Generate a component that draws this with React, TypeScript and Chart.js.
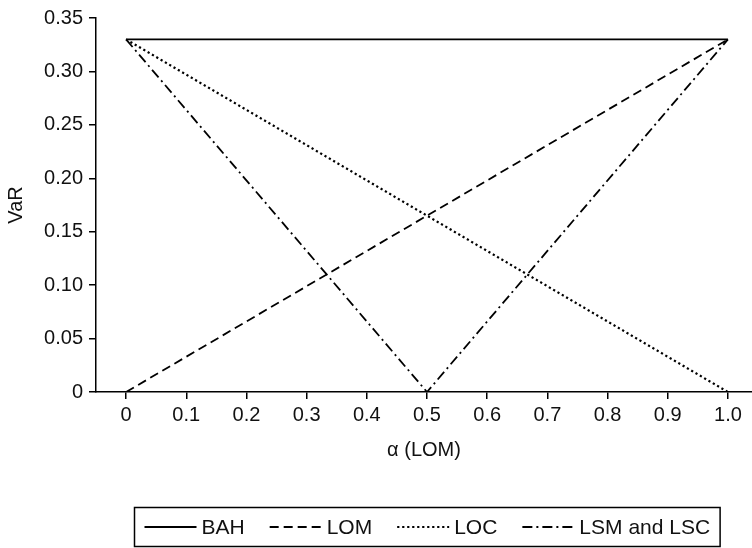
import React, { useEffect, useRef } from 'react';
import { Chart, registerables } from 'chart.js';

Chart.register(...registerables);

const FONT = '"Liberation Sans", Arial, Helvetica, sans-serif';

const alpha = [0, 0.5, 1.0];
const bahValues = [0.33, 0.33, 0.33];
const lomValues = [0, 0.165, 0.33];
const locValues = [0.33, 0.165, 0];
const lsmValues = [0.33, 0, 0.33];
const seriesNames = ['BAH', 'LOM', 'LOC', 'LSM and LSC'];

const xTicks = [0, 0.1, 0.2, 0.3, 0.4, 0.5, 0.6, 0.7, 0.8, 0.9, 1.0];
const xTickLabels = ['0', '0.1', '0.2', '0.3', '0.4', '0.5', '0.6', '0.7', '0.8', '0.9', '1.0'];
const yTicks = [0, 0.05, 0.1, 0.15, 0.2, 0.25, 0.3, 0.35];
const yTickLabels = ['0', '0.05', '0.10', '0.15', '0.20', '0.25', '0.30', '0.35'];

const xTitle = 'α (LOM)';
const yTitle = 'VaR';

const toPoints = (vals: number[]) => vals.map((v, i) => ({ x: alpha[i], y: v }));

const boxLegend = {
  id: 'boxLegend',
  afterDraw(chart: any) {
    const ctx = chart.ctx as CanvasRenderingContext2D;
    ctx.save();
    ctx.font = `21px ${FONT}`;
    const sample = 52, gapText = 5, gapItem = 25, pad = 10;
    const items = chart.data.datasets.map((ds: any) => ({
      label: ds.label as string,
      dash: (ds.borderDash || []) as number[],
      w: ctx.measureText(ds.label).width,
    }));
    const total =
      pad * 2 +
      items.reduce((s: number, it: any) => s + sample + gapText + it.w, 0) +
      gapItem * (items.length - 1);
    const cx = (chart.chartArea.left + chart.chartArea.right) / 2 + 3;
    const left = Math.round(cx - total / 2) + 0.5;
    const h = 39;
    const top = chart.height - 41 + 0.5;
    ctx.strokeStyle = '#000';
    ctx.lineWidth = 1.5;
    ctx.setLineDash([]);
    ctx.strokeRect(left, top, total, h);
    let x = left + pad;
    const y = top + h / 2;
    items.forEach((it: any) => {
      ctx.setLineDash(it.dash);
      ctx.lineWidth = 2;
      ctx.beginPath();
      ctx.moveTo(x, y);
      ctx.lineTo(x + sample, y);
      ctx.stroke();
      x += sample + gapText;
      ctx.setLineDash([]);
      ctx.fillStyle = '#111';
      ctx.textBaseline = 'middle';
      ctx.textAlign = 'left';
      ctx.fillText(it.label, x, y + 1);
      x += it.w + gapItem;
    });
    ctx.restore();
  },
};

export default function App() {
  const ref = useRef<HTMLCanvasElement | null>(null);

  useEffect(() => {
    document.body.style.margin = '0';
    if (!ref.current) return;
    const common = { borderColor: '#000', borderWidth: 1.8, pointRadius: 0, fill: false, tension: 0 };
    const chart = new Chart(ref.current, {
      type: 'line',
      data: {
        datasets: [
          { label: seriesNames[0], data: toPoints(bahValues), ...common, borderDash: [] },
          { label: seriesNames[1], data: toPoints(lomValues), ...common, borderDash: [9, 5] },
          { label: seriesNames[2], data: toPoints(locValues), ...common, borderWidth: 2.2, borderDash: [2.2, 2.8] },
          { label: seriesNames[3], data: toPoints(lsmValues), ...common, borderDash: [10, 4, 2, 4] },
        ],
      },
      options: {
        responsive: false,
        animation: false,
        layout: { padding: { top: 16, right: 0, bottom: 76, left: 0 } },
        plugins: { legend: { display: false }, tooltip: { enabled: false } },
        scales: {
          x: {
            type: 'linear',
            min: -0.05,
            max: 1.04,
            afterBuildTicks: (s: any) => {
              s.ticks = xTicks.map((v) => ({ value: v }));
            },
            afterFit: (s: any) => {
              s.height = 80;
            },
            ticks: {
              autoSkip: false,
              maxRotation: 0,
              padding: 4,
              color: '#111',
              font: { family: FONT, size: 20 },
              callback: (v: any) => {
                const i = xTicks.findIndex((t) => Math.abs(t - Number(v)) < 1e-9);
                return i >= 0 ? xTickLabels[i] : '';
              },
            },
            grid: { drawOnChartArea: false, drawTicks: true, tickLength: 7, color: '#000', lineWidth: 1.5 },
            border: { display: true, color: '#000', width: 1.5 },
            title: {
              display: true,
              text: xTitle,
              color: '#111',
              font: { family: FONT, size: 20 },
              padding: { top: 0, bottom: 10 },
            },
          },
          y: {
            type: 'linear',
            min: 0,
            max: 0.35,
            afterBuildTicks: (s: any) => {
              s.ticks = yTicks.map((v) => ({ value: v }));
            },
            afterFit: (s: any) => {
              s.width = 96;
            },
            ticks: {
              autoSkip: false,
              padding: 6,
              color: '#111',
              font: { family: FONT, size: 20 },
              callback: (v: any) => {
                const i = yTicks.findIndex((t) => Math.abs(t - Number(v)) < 1e-9);
                return i >= 0 ? yTickLabels[i] : '';
              },
            },
            grid: { drawOnChartArea: false, drawTicks: true, tickLength: 7, color: '#000', lineWidth: 1.5 },
            border: { display: true, color: '#000', width: 1.5 },
            title: {
              display: true,
              text: yTitle,
              color: '#111',
              font: { family: FONT, size: 20 },
              padding: { top: 4, bottom: 0 },
            },
          },
        },
      },
      plugins: [boxLegend],
    });
    return () => chart.destroy();
  }, []);

  return (
    <div style={{ width: 752, height: 548 }}>
      <canvas ref={ref} width={752} height={548} />
    </div>
  );
}
